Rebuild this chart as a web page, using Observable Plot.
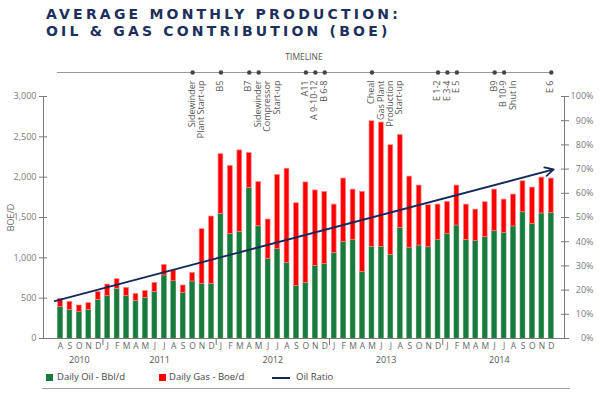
<!DOCTYPE html>
<html>
<head>
<meta charset="utf-8">
<script src="https://cdn.jsdelivr.net/npm/d3@7"></script>
<script src="https://cdn.jsdelivr.net/npm/@observablehq/plot@0.6"></script>
<style>
  body { margin: 0; background: #fff; font-family: "Open Sans", sans-serif; }
  #title { height: 45px; box-sizing: border-box; padding: 6px 0 0 46px; font-family: "DejaVu Sans", sans-serif; font-weight: bold; font-size: 14px; letter-spacing: 3.2px; line-height: 17px; color: #1d2f5c; white-space: nowrap; }
  #chart svg { display: block; }
  #legend { position: relative; height: 25px; font-size: 9.5px; color: #444; }
  #legend .sw { position: absolute; top: 6px; width: 7px; height: 7px; }
  #legend .ln { position: absolute; top: 8.5px; width: 18px; height: 2px; background: #14285a; }
  #legend .lt { position: absolute; top: 2px; line-height: 14px; }
  #legend .rule { position: absolute; top: 20px; left: 42px; width: 528px; height: 1px; background: #a0a0a0; }
</style>
</head>
<body>
<div id="title">AVERAGE MONTHLY PRODUCTION:<br>OIL &amp; GAS CONTRIBUTION (BOE)</div>
<div id="chart"></div>
<div id="legend">
  <span class="sw" style="left:46px;background:#177a40"></span><span class="lt" style="left:57px">Daily Oil - Bbl/d</span>
  <span class="sw" style="left:159px;background:#ff0000"></span><span class="lt" style="left:169px">Daily Gas - Boe/d</span>
  <span class="ln" style="left:272px"></span><span class="lt" style="left:296px">Oil Ratio</span>
  <div class="rule"></div>
</div>
<script>
// ---- categories ----
const months = d3.utcMonths(new Date(Date.UTC(2010, 7, 1)), new Date(Date.UTC(2015, 0, 1))); // Aug 2010 .. Dec 2014
const monthLetters = ["J","F","M","A","M","J","J","A","S","O","N","D"];
const years = [2010, 2011, 2012, 2013, 2014];

// ---- series values (BOE/d) ----
const oilBbl = [388,355,331,355,479,525,615,525,463,504,578,781,710,562,706,678,678,
  1545,1297,1322,1867,1391,988,1107,935,652,690,897,925,
  1057,1194,1219,826,1136,1136,1033,1372,1124,1152,1131,1219,
  1297,1400,1223,1211,1256,1330,1310,1388,1565,1421,1549,1557];
const gasBoe = [104,100,78,83,99,144,120,103,90,87,112,132,133,95,108,677,834,
  740,843,1010,432,549,487,921,1170,1025,1245,939,893,
  603,789,627,992,1557,1541,1363,1152,883,744,521,441,
  397,496,437,387,433,516,412,396,384,450,446,426];

// ---- oil ratio trend (%) ----
const oilRatioMonths = ["2010-08", "2014-12"];
const oilRatioPct = [16.1, 69.6];

// ---- timeline events ----
const eventMonths = ["2011-10","2012-01","2012-04","2012-05","2012-10","2012-11","2012-12","2013-05","2013-12","2014-01","2014-02","2014-06","2014-07","2014-12"];
const eventLabels = ["Sidewinder\nPlant Start-up","B5","B7","Sidewinder\nCompressor\nStart-up","A11","A 9-10-12","B 6-8","Cheal\nGas Plant\nProduction\nStart-up","E 1-2","E 3-4","E 5","B9","B 10-9\nShut In","E 6"];

// ---- tick labels ----
const yTicks = [0, 500, 1000, 1500, 2000, 2500, 3000];
const pctTicks = [0, 10, 20, 30, 40, 50, 60, 70, 80, 90, 100];

// ---- build tables ----
const key = d3.utcFormat("%Y-%m");
const idxOf = k => months.findIndex(m => key(m) === k);
const rows = months.map((m, i) => ({i, oil: oilBbl[i], gas: gasBoe[i]}));
const events = eventMonths.map((k, j) => ({i: idxOf(k), label: eventLabels[j]}));
const pctFactor = 3000 / 100;
const ratio = [{x1: idxOf(oilRatioMonths[0]), x2: idxOf(oilRatioMonths[1]), y1: oilRatioPct[0] * pctFactor, y2: oilRatioPct[1] * pctFactor}];
const xDomain = [-1.8, 53.4];
const yearRows = years.map(y => {
  const ids = months.map((m, i) => m.getUTCFullYear() === y ? i : null).filter(v => v !== null);
  const lo = Math.max(d3.min(ids) - 0.5, xDomain[0]);
  const hi = d3.max(ids) + 0.5;
  return {year: String(y), mid: (lo + hi) / 2};
});
const janIdx = months.map((m, i) => m.getUTCMonth() === 0 ? i - 0.5 : null).filter(v => v !== null);

const gray = "#7a7a7a";
const plot = Plot.plot({
  width: 600,
  height: 323,
  marginLeft: 43,
  marginRight: 36,
  marginTop: 51,
  marginBottom: 30,
  x: {domain: xDomain},
  y: {domain: [0, 3000]},
  style: {fontFamily: "Open Sans, sans-serif", fontSize: 9, color: "#666", background: "#fff"},
  marks: [
    // bars
    Plot.rectY(rows, {x1: d => d.i - 0.5, x2: d => d.i + 0.5, y1: 0, y2: "oil", insetLeft: 2.3, insetRight: 2.3, fill: "#177a40", stroke: "#3a9142", strokeWidth: 0.6}),
    Plot.rectY(rows, {x1: d => d.i - 0.5, x2: d => d.i + 0.5, y1: "oil", y2: d => d.oil + d.gas, insetLeft: 2.3, insetRight: 2.3, fill: "#ff0000", stroke: "#ff8c8c", strokeWidth: 0.7}),
    // axis lines
    Plot.ruleX(xDomain, {stroke: gray}),
    Plot.ruleY([0], {stroke: gray, insetRight: -5}),
    // oil ratio arrow
    Plot.arrow(ratio, {x1: "x1", y1: "y1", x2: "x2", y2: "y2", stroke: "#14285a", strokeWidth: 1.8, headLength: 8, headAngle: 55, insetStart: -6, insetEnd: -2.5}),
    // y axes
    Plot.axisY(yTicks, {anchor: "left", tickSize: 8, dx: 4, tickPadding: 3, tickFormat: d3.format(","), color: gray, fontSize: 9, label: null}),
    Plot.axisY(pctTicks.map(p => p * pctFactor), {anchor: "right", tickSize: 8, dx: -4, tickPadding: 25, textAnchor: "end", tickFormat: d => Math.round(d / pctFactor) + "%", color: gray, fontSize: 9, label: null}),
    Plot.text(["BOE/D"], {frameAnchor: "left", rotate: -90, dx: -32, textAnchor: "middle", lineAnchor: "middle", fill: "#666", fontSize: 9}),
    // x axis: months, year separators, years
    Plot.axisX(rows.map(d => d.i), {tickSize: 0, tickPadding: 4, tickFormat: i => monthLetters[months[i].getUTCMonth()], color: "#666", fontSize: 8.5, label: null}),
    Plot.axisX(janIdx, {tickSize: 7, tickFormat: () => "", color: gray, label: null}),
    Plot.text(yearRows, {x: "mid", y: 0, dy: 22, text: "year", fill: "#555", fontSize: 9}),
    // timeline
    Plot.ruleY([3000], {x1: 0, x2: rows.length - 1, dy: -24, stroke: "#999", strokeWidth: 1.2, insetLeft: -3, insetRight: -2}),
    Plot.dot(events, {x: "i", y: 3000, dy: -24, r: 2.2, fill: "#444", stroke: null}),
    Plot.text(events, {x: "i", y: 3000, dy: -16, dx: -4.6, rotate: -90, text: "label", textAnchor: "end", lineAnchor: "top", lineHeight: 1.05, fill: "#555", fontSize: 9}),
    Plot.text(["TIMELINE"], {frameAnchor: "top", dy: -39, lineAnchor: "middle", fill: "#555", fontSize: 8.5})
  ]
});
document.getElementById("chart").appendChild(plot);
</script>
</body>
</html>
